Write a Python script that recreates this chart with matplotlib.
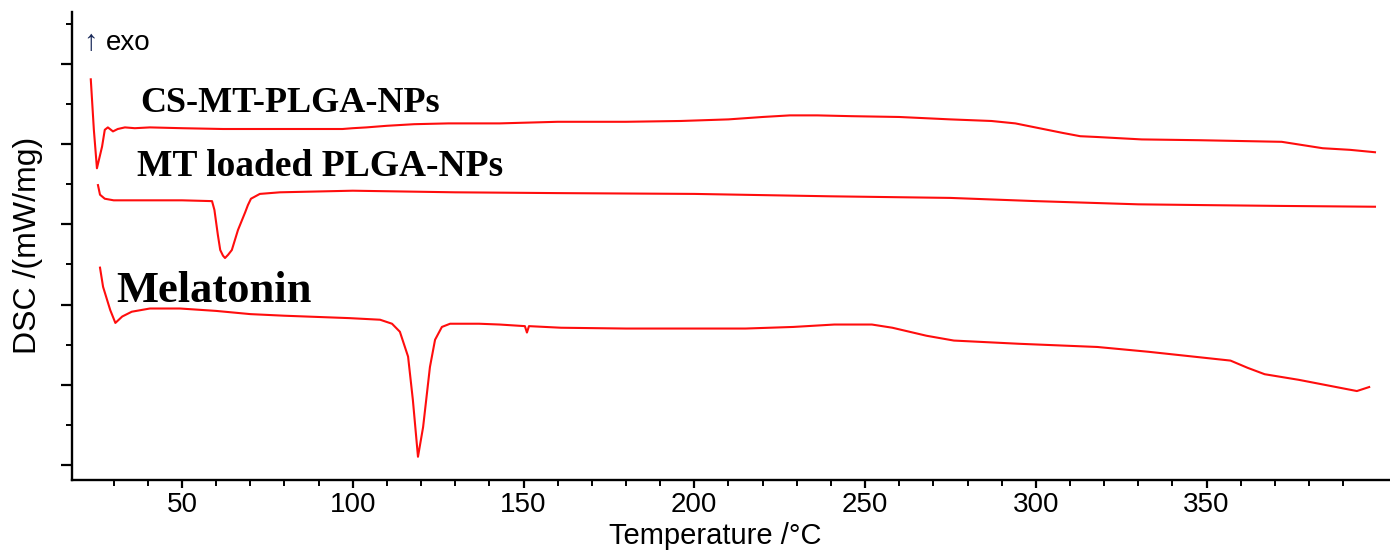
import matplotlib
matplotlib.use('Agg')
import matplotlib.pyplot as plt
from matplotlib.ticker import MultipleLocator, FixedLocator, NullFormatter

# DSC traces (temperature in degC, DSC in arbitrary mW/mg units)
cs_temp = [23.3, 24.2, 25.1, 26.6, 27.4, 28.3, 29.8, 31.2, 33.3, 36.2, 40.6, 50, 62, 78, 90,
           97, 100, 104, 110, 118, 128, 143, 160, 180, 196, 210, 220, 228, 236, 246, 260,
           275, 287, 294, 301, 308, 313, 318, 331, 348, 372, 384, 392, 399.3]
cs_dsc = [4.81, 4.18, 3.70, 3.97, 4.18, 4.21, 4.16, 4.19, 4.21, 4.20, 4.21, 4.20, 4.19, 4.19, 4.19,
          4.19, 4.20, 4.21, 4.23, 4.25, 4.26, 4.26, 4.28, 4.28, 4.29, 4.31, 4.34, 4.36, 4.36, 4.35, 4.34,
          4.31, 4.29, 4.26, 4.20, 4.14, 4.10, 4.09, 4.06, 4.05, 4.03, 3.95, 3.93, 3.90]

mt_temp = [25.4, 26.0, 27.4, 30, 38, 50, 58.8, 59.5, 60.5, 61.2, 62.0, 62.6, 63.5, 64.6, 66.4,
           68.5, 69.3, 70.2, 72.8, 78.7, 100, 130, 160, 200, 240, 275, 300, 330, 350, 372, 399.3]
mt_dsc = [3.49, 3.37, 3.32, 3.30, 3.30, 3.30, 3.29, 3.18, 2.87, 2.68, 2.61, 2.58, 2.62, 2.68, 2.93,
          3.15, 3.24, 3.32, 3.38, 3.40, 3.42, 3.40, 3.39, 3.38, 3.35, 3.33, 3.29, 3.25, 3.24, 3.23, 3.22]

mel_temp = [26.0, 26.9, 29.0, 30.5, 32.5, 35.3, 40.6, 49.4, 60, 70, 80, 99, 108, 111.5, 113.8,
            116.2, 117.6, 119.1, 120.6, 122.6, 124.1, 126.1, 128.5, 137, 143, 150.4, 151.0, 151.6,
            161, 180, 215, 229, 241, 252, 258, 268, 276, 295, 318, 333, 357, 362, 367, 377, 394, 397.6]
mel_dsc = [2.46, 2.22, 1.93, 1.77, 1.85, 1.91, 1.95, 1.95, 1.92, 1.88, 1.86, 1.83, 1.81, 1.76, 1.66,
           1.35, 0.81, 0.10, 0.47, 1.22, 1.56, 1.72, 1.76, 1.76, 1.75, 1.73, 1.65, 1.73,
           1.71, 1.70, 1.70, 1.72, 1.75, 1.75, 1.71, 1.61, 1.55, 1.51, 1.47, 1.41, 1.30, 1.21, 1.13, 1.06, 0.92, 0.97]

labels = ['CS-MT-PLGA-NPs', 'MT loaded PLGA-NPs', 'Melatonin']
label_pos = [(37.7, 4.40), (36.8, 3.60), (30.9, 2.03)]
label_size = [26, 27, 32]

minor_x = [t for t in range(30, 400, 10) if t % 50 != 0]

fig = plt.figure(figsize=(13.9, 5.5), dpi=100)
ax = fig.add_axes([72 / 1390, 70 / 550, 1 - 72 / 1390, 468 / 550])

for temp, dsc in [(cs_temp, cs_dsc), (mt_temp, mt_dsc), (mel_temp, mel_dsc)]:
    ax.plot(temp, dsc, color='#ff0d0d', lw=1.5)

for text, (x, y), size in zip(labels, label_pos, label_size):
    ax.text(x, y, text, fontsize=size, fontweight='bold', family='Liberation Serif',
            va='baseline', ha='left')

# "up = exothermic" marker
ax.text(21.2, 5.17, '\u2191', fontsize=21, family='Liberation Sans', va='baseline', ha='left',
        color='#1a2a5a')
ax.text(27.6, 5.17, 'exo', fontsize=20, family='Liberation Sans', va='baseline', ha='left')

ax.set_xlim(17.8, 403.7)
ax.set_ylim(-0.19, 5.65)

ax.spines['top'].set_visible(False)
ax.spines['right'].set_visible(False)
for s in ['left', 'bottom']:
    ax.spines[s].set_linewidth(1.7)

ax.xaxis.set_major_locator(FixedLocator([50, 100, 150, 200, 250, 300, 350]))
ax.xaxis.set_minor_locator(FixedLocator(minor_x))
ax.yaxis.set_major_locator(MultipleLocator(1))
ax.yaxis.set_minor_locator(MultipleLocator(0.5))
ax.yaxis.set_major_formatter(NullFormatter())

ax.tick_params(axis='x', which='major', length=6, width=1.6, labelsize=20, pad=2.5)
ax.tick_params(axis='x', which='minor', length=4, width=1.4)
ax.tick_params(axis='y', which='major', length=8, width=1.6)
ax.tick_params(axis='y', which='minor', length=4, width=1.4)
for lab in ax.get_xticklabels():
    lab.set_family('Liberation Sans')

fig.text(715 / 1390, 6.5 / 550, 'Temperature /\u00b0C', fontsize=21, family='Liberation Sans',
         ha='center', va='baseline')
fig.text(28 / 1390, 305 / 550, 'DSC /(mW/mg)', fontsize=23, family='Liberation Sans',
         rotation=90, ha='center', va='center')

fig.savefig('out.png', dpi=100)
